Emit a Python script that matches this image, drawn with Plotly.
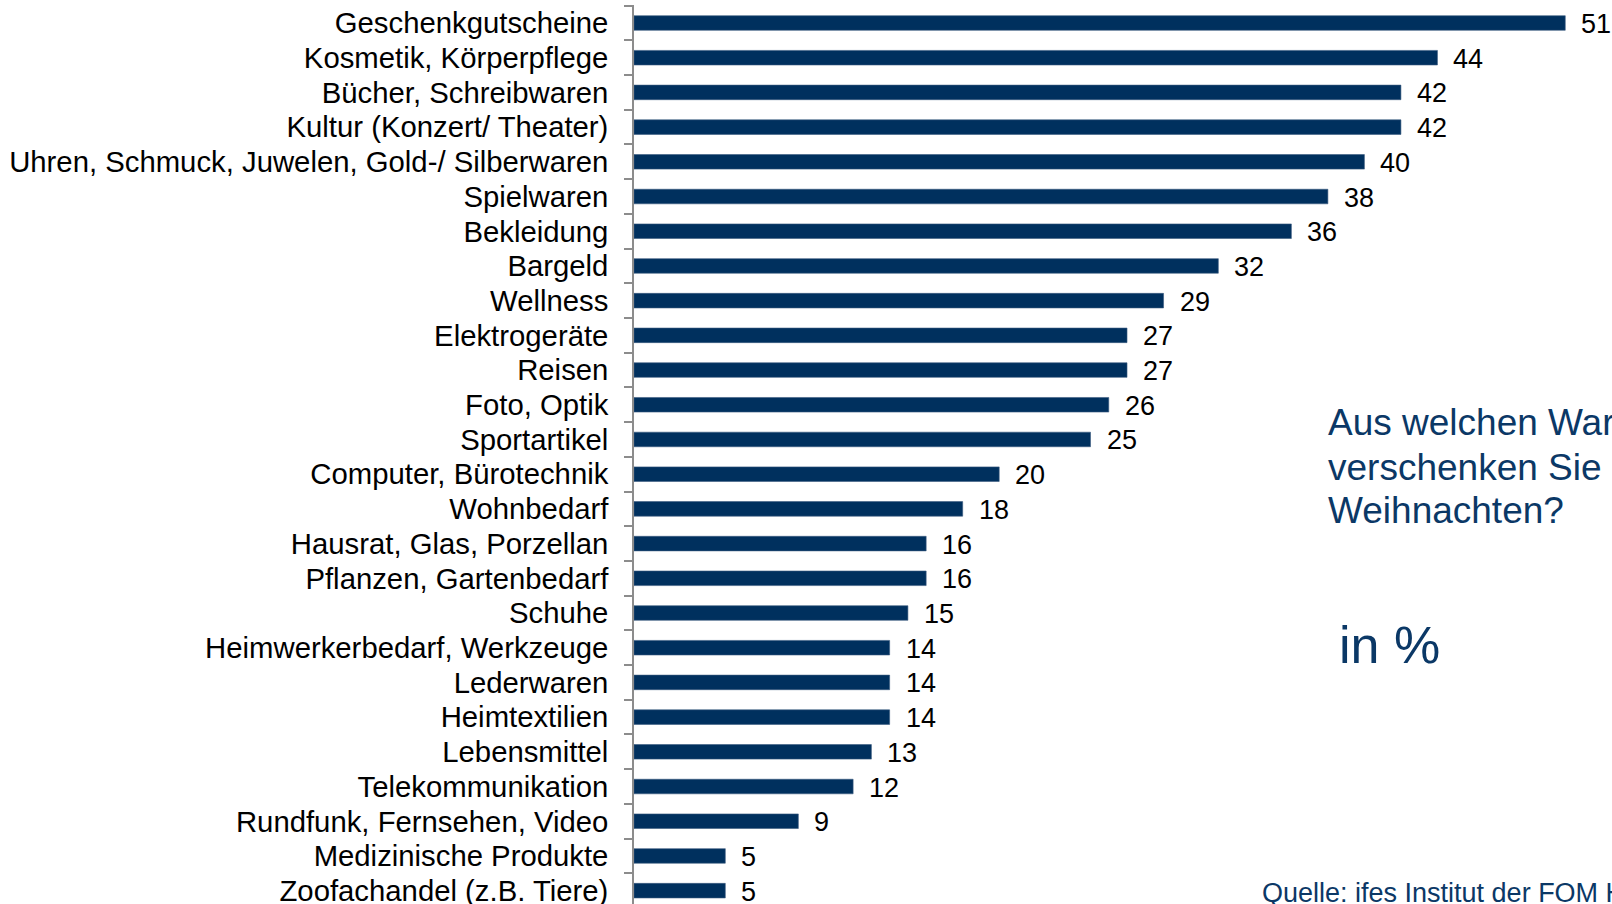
import plotly.graph_objects as go

categories = [
    "Geschenkgutscheine", "Kosmetik, Körperpflege", "Bücher, Schreibwaren",
    "Kultur (Konzert/ Theater)", "Uhren, Schmuck, Juwelen, Gold-/ Silberwaren",
    "Spielwaren", "Bekleidung", "Bargeld", "Wellness", "Elektrogeräte", "Reisen",
    "Foto, Optik", "Sportartikel", "Computer, Bürotechnik", "Wohnbedarf",
    "Hausrat, Glas, Porzellan", "Pflanzen, Gartenbedarf", "Schuhe",
    "Heimwerkerbedarf, Werkzeuge", "Lederwaren", "Heimtextilien", "Lebensmittel",
    "Telekommunikation", "Rundfunk, Fernsehen, Video", "Medizinische Produkte",
    "Zoofachandel (z.B. Tiere)",
]
values = [51, 44, 42, 42, 40, 38, 36, 32, 29, 27, 27, 26, 25, 20, 18, 16, 16, 15,
          14, 14, 14, 13, 12, 9, 5, 5]

question_lines = ["Aus welchen Warengruppen", "verschenken Sie zu", "Weihnachten?"]
unit_text = "in %"
source_text = "Quelle: ifes Institut der FOM Hochschule"

# the chart area runs a few pixels below the visible window, as in the reference
W, H = 1612, 908
ML, MR, MT, MB = 634, 0, 5, 0
navy = "#00305E"
text_navy = "#0B3866"
font_family = "Arial, Liberation Sans, sans-serif"

fig = go.Figure(go.Bar(
    x=values, y=categories, orientation="h",
    marker=dict(color=navy, line=dict(color="#3A5A80", width=0.6)),
    width=0.42, hoverinfo="skip",
))

# value labels
for c, v in zip(categories, values):
    fig.add_annotation(x=v, y=c, xref="x", yref="y", text=str(v), showarrow=False,
                       xanchor="left", yanchor="middle", xshift=14, yshift=-1,
                       font=dict(family=font_family, size=27, color="#000000"))

def px_x(px):
    return (px - ML) / (W - ML - MR)

def px_y(py):
    return (H - MB - py) / (H - MT - MB)

centers = [422, 467, 510]
for line, cy in zip(question_lines, centers):
    fig.add_annotation(x=px_x(1326), y=px_y(cy), xref="paper", yref="paper", text=line,
                       showarrow=False, xanchor="left", yanchor="middle",
                       font=dict(family=font_family, size=37, color=text_navy))

fig.add_annotation(x=px_x(1337), y=px_y(645), xref="paper", yref="paper", text=unit_text,
                   showarrow=False, xanchor="left", yanchor="middle",
                   font=dict(family=font_family, size=52, color=text_navy))

fig.add_annotation(x=px_x(1260), y=px_y(893), xref="paper", yref="paper", text=source_text,
                   showarrow=False, xanchor="left", yanchor="middle",
                   font=dict(family=font_family, size=27, color=text_navy))

fig.update_layout(
    width=W, height=H,
    margin=dict(l=ML, r=MR, t=MT, b=MB, pad=0),
    paper_bgcolor="white", plot_bgcolor="white",
    showlegend=False,
    bargap=0.58,
    xaxis=dict(range=[0, (W - ML - MR) / 18.26], visible=False, fixedrange=True,
               automargin=False),
    yaxis=dict(
        autorange="reversed", type="category", automargin=False,
        tickmode="array", tickvals=categories, ticktext=categories,
        showline=True, linecolor="#8C8C8C", linewidth=1.5,
        ticks="outside", ticklen=8, tickcolor="#8C8C8C", tickwidth=1.5,
        tickson="boundaries", ticklabelstandoff=18, ticklabeloverflow="allow",
        tickfont=dict(family=font_family, size=29.3, color="#000000"),
        showgrid=False, fixedrange=True,
    ),
)

fig.write_html("out.html", config={"displayModeBar": False},
               post_script="document.body.style.margin='0';document.body.style.overflow='hidden';")
